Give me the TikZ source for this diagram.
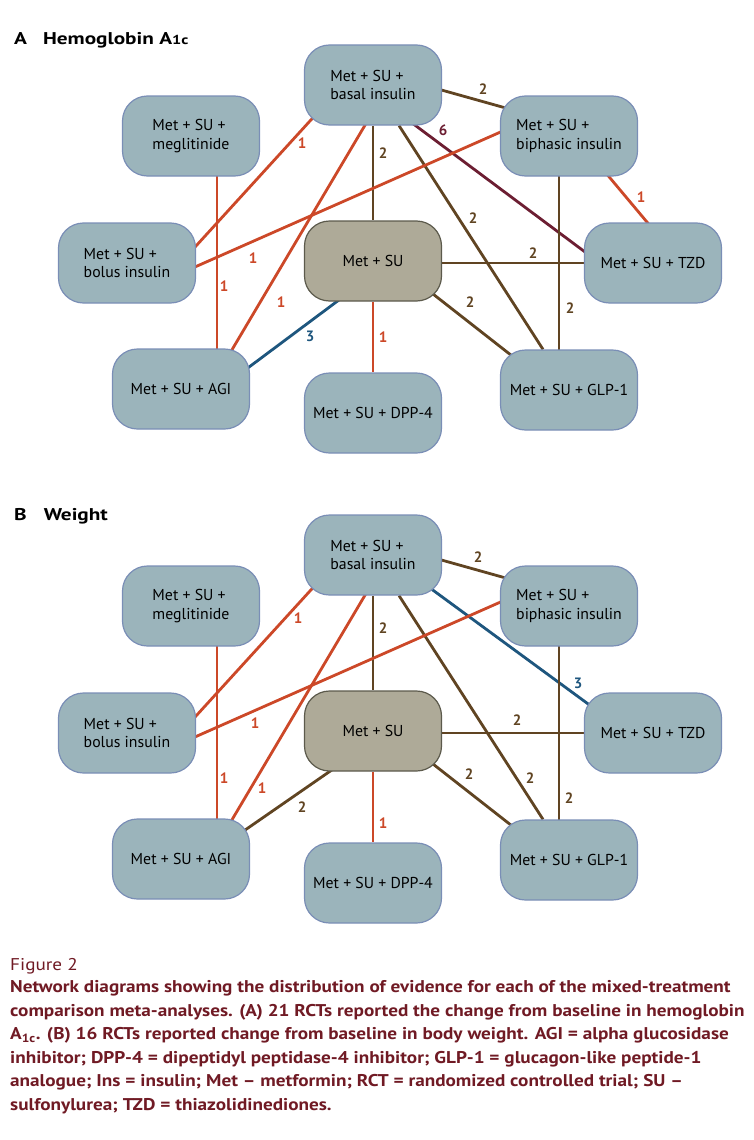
\documentclass[tikz,border=0pt]{standalone}
\usepackage{fontspec}
\setmainfont{PT Sans}
\newfontfamily\capfont[FakeStretch=1.13]{PT Sans}
\newfontfamily\headfont[FakeStretch=1.25]{PT Sans}
\usepackage{xcolor}
\usetikzlibrary{positioning, calc, backgrounds}
\definecolor{boxblue}{RGB}{155,180,187}
\definecolor{boxedge}{RGB}{122,142,182}
\definecolor{basefill}{RGB}{174,170,152}
\definecolor{baseedge}{RGB}{92,90,76}
\definecolor{linebrown}{RGB}{96,68,34}
\definecolor{linered}{RGB}{204,72,40}
\definecolor{lineblue}{RGB}{30,86,126}
\definecolor{linemaroon}{RGB}{108,30,50}
\definecolor{captionred}{RGB}{112,26,36}

\tikzset{
  drug/.style={fill=boxblue, draw=boxedge, line width=1.2pt, rounded corners=25pt,
    minimum width=137pt, minimum height=80pt, inner sep=2pt, align=left,
    font=\fontsize{15.8}{18.5}\selectfont},
  centerbox/.style={drug, fill=basefill, draw=baseedge},
  conn/.style={line width=2.8pt},
  brownline/.style={conn, draw=linebrown},
  redline/.style={conn, draw=linered},
  blueline/.style={conn, draw=lineblue},
  maroonline/.style={conn, draw=linemaroon},
  num/.style={font=\bfseries\fontsize{15}{15}\selectfont, inner sep=0pt},
  paneltitle/.style={anchor=base west, inner sep=0pt, font=\headfont\bfseries\fontsize{17}{17}\selectfont},
}

% the nine treatment boxes of one panel
\newcommand{\drugnodes}[1]{%
  \node[drug] (#1basal) at (373,85) {Met + SU +\\basal insulin};
  \node[drug] (#1megli) at (191,136) {Met + SU +\\meglitinide};
  \node[drug] (#1biph) at (569,136) {Met + SU +\\biphasic insulin};
  \node[drug] (#1bolus) at (127,263) {Met + SU +\\bolus insulin};
  \node[centerbox] (#1mets) at (373,261) {Met + SU};
  \node[drug] (#1tzd) at (653,263) {Met + SU + TZD};
  \node[drug] (#1agi) at (181,389) {Met + SU + AGI};
  \node[drug] (#1dpp) at (373,413) {Met + SU + DPP-4};
  \node[drug] (#1glp) at (569,390) {Met + SU + GLP-1};
}

\begin{document}
\begin{tikzpicture}[x=1pt, y=-1pt]
\useasboundingbox (0,0) rectangle (753,1140);

% Panel A
\node[paneltitle] (titleA) at (14,45) {A\hspace{16pt}Hemoglobin A{\fontsize{13}{13}\selectfont 1c}};
\drugnodes{a}
\begin{pgfonlayer}{background}
  \draw[brownline] ([shift={(47,-1)}]abasal.center) -- ([shift={(-24,-17)}]abiph.center)
    node[num, text=linebrown, at={(483,89)}] (la1) {2};
  \draw[maroonline] ([shift={(27,29)}]abasal.center) -- ([shift={(-13,30)}]atzd.center)
    node[num, text=linemaroon, at={(443,130)}] (la2) {6};
  \draw[brownline] (abasal) -- (amets)
    node[num, text=linebrown, at={(383,153)}] (la3) {2};
  \draw[brownline] (abasal) -- (aglp)
    node[num, text=linebrown, at={(473,218)}] (la4) {2};
  \draw[redline] ([shift={(-43,14)}]abasal.center) -- ([shift={(48,6)}]abolus.center)
    node[num, text=linered, at={(302,143)}] (la5) {1};
  \draw[redline] ([shift={(1,25)}]abasal.center) -- ([shift={(39,-19)}]aagi.center)
    node[num, text=linered, at={(281,302)}] (la6) {1};
  \draw[redline] ([shift={(-39,-17)}]abiph.center) -- ([shift={(43,15)}]abolus.center)
    node[num, text=linered, at={(253,258)}] (la7) {1};
  \draw[brownline] ([shift={(-10,0)}]abiph.center) -- ([shift={(-10,0)}]aglp.center)
    node[num, text=linebrown, at={(570,308)}] (la8) {2};
  \draw[redline] ([shift={(26,24)}]abiph.center) -- ([shift={(9,-23)}]atzd.center)
    node[num, text=linered, at={(641,197)}] (la9) {1};
  \draw[redline] ([shift={(26,0)}]amegli.center) -- ([shift={(36,0)}]aagi.center)
    node[num, text=linered, at={(224,286)}] (la10) {1};
  \draw[brownline] ([shift={(0,2)}]amets.center) -- (atzd)
    node[num, text=linebrown, at={(533,253)}] (la11) {2};
  \draw[brownline] ([shift={(37,15)}]amets.center) -- ([shift={(-39,-20)}]aglp.center)
    node[num, text=linebrown, at={(470,302)}] (la12) {2};
  \draw[blueline] ([shift={(-18,27)}]amets.center) -- ([shift={(44,-4)}]aagi.center)
    node[num, text=lineblue, at={(310,336)}] (la13) {3};
  \draw[redline] (amets) -- (adpp)
    node[num, text=linered, at={(383,337)}] (la14) {1};
\end{pgfonlayer}

% Panel B
\begin{scope}[shift={(0,470)}]
\node[paneltitle] (titleB) at (14,50) {B\hspace{17pt}Weight};
\drugnodes{b}
\begin{pgfonlayer}{background}
  \draw[brownline] ([shift={(47,-1)}]bbasal.center) -- ([shift={(-24,-17)}]bbiph.center)
    node[num, text=linebrown, at={(478,87)}] (lb1) {2};
  \draw[blueline] ([shift={(27,11)}]bbasal.center) -- ([shift={(-13,9)}]btzd.center)
    node[num, text=lineblue, at={(578,213)}] (lb2) {3};
  \draw[brownline] (bbasal) -- (bmets)
    node[num, text=linebrown, at={(383,158)}] (lb3) {2};
  \draw[brownline] (bbasal) -- (bglp)
    node[num, text=linebrown, at={(530,308)}] (lb4) {2};
  \draw[redline] ([shift={(-43,14)}]bbasal.center) -- ([shift={(48,6)}]bbolus.center)
    node[num, text=linered, at={(298,148)}] (lb5) {1};
  \draw[redline] ([shift={(1,25)}]bbasal.center) -- ([shift={(39,-19)}]bagi.center)
    node[num, text=linered, at={(262,318)}] (lb6) {1};
  \draw[redline] ([shift={(-39,-17)}]bbiph.center) -- ([shift={(43,15)}]bbolus.center)
    node[num, text=linered, at={(255,253)}] (lb7) {1};
  \draw[brownline] ([shift={(-10,0)}]bbiph.center) -- ([shift={(-10,0)}]bglp.center)
    node[num, text=linebrown, at={(569,328)}] (lb8) {2};
  \draw[redline] ([shift={(26,0)}]bmegli.center) -- ([shift={(36,0)}]bagi.center)
    node[num, text=linered, at={(224,308)}] (lb10) {1};
  \draw[brownline] ([shift={(0,2)}]bmets.center) -- (btzd)
    node[num, text=linebrown, at={(517,250)}] (lb11) {2};
  \draw[brownline] ([shift={(37,15)}]bmets.center) -- ([shift={(-39,-20)}]bglp.center)
    node[num, text=linebrown, at={(469,304)}] (lb12) {2};
  \draw[brownline] ([shift={(-21,25)}]bmets.center) -- ([shift={(41,-13)}]bagi.center)
    node[num, text=linebrown, at={(302,337)}] (lb13) {2};
  \draw[redline] (bmets) -- (bdpp)
    node[num, text=linered, at={(383,353)}] (lb14) {1};
\end{pgfonlayer}
\end{scope}

% caption
\node[anchor=base west, inner sep=0pt, text=captionred, font=\capfont\fontsize{17}{23.5}\selectfont]
  (figlabel) at (10,970) {Figure 2};
\node[anchor=base west, inner sep=0pt, align=left, text=captionred,
      font=\capfont\bfseries\fontsize{17}{23.5}\selectfont]
  (caption) at (10,1110) {Network diagrams showing the distribution of evidence for each of the mixed-treatment\\
comparison meta-analyses. (A) 21 RCTs reported the change from baseline in hemoglobin\\
A\textsubscript{1c}. (B) 16 RCTs reported change from baseline in body weight. AGI = alpha glucosidase\\
inhibitor; DPP-4 = dipeptidyl peptidase-4 inhibitor; GLP-1 = glucagon-like peptide-1\\
analogue; Ins = insulin; Met – metformin; RCT = randomized controlled trial; SU –\\
sulfonylurea; TZD = thiazolidinediones.};
\end{tikzpicture}
\end{document}
